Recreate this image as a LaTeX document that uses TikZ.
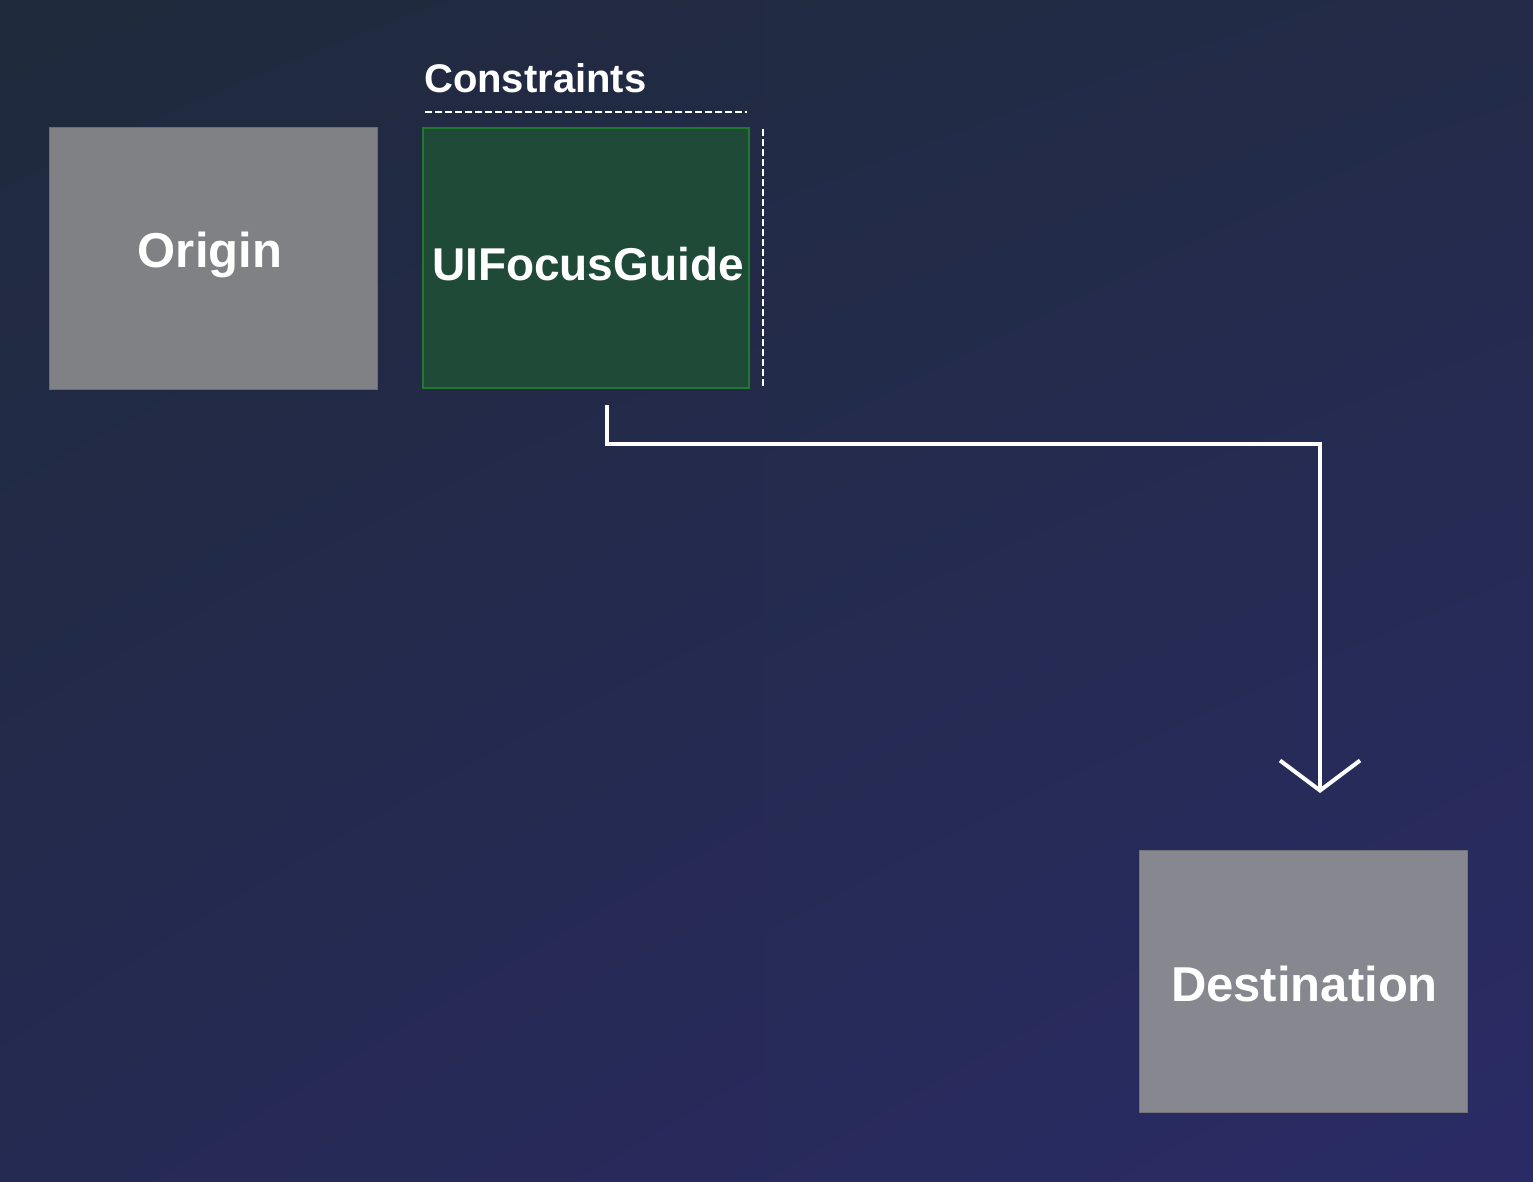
\documentclass[tikz,border=0pt]{standalone}
\usepackage{fontspec}
\setmainfont{Liberation Sans}
\usetikzlibrary{arrows.meta,shadings}
\definecolor{bgUL}{HTML}{1F2A3C}
\definecolor{bgUR}{HTML}{232B48}
\definecolor{bgLL}{HTML}{252A52}
\definecolor{bgLR}{HTML}{2A2B66}
\definecolor{viewgray}{HTML}{808185}
\definecolor{destgray}{HTML}{87878F}
\definecolor{guidefill}{HTML}{1F4A37}
\definecolor{guideedge}{HTML}{1F7A2E}
\tikzset{
  viewbox/.style={draw=viewgray!85!black, line width=1pt, minimum width=328pt, minimum height=262pt, inner sep=0pt, text height=20pt, text depth=20pt, text=white, font=\fontsize{49}{58}\selectfont\bfseries},
  guidebox/.style={fill=guidefill, draw=guideedge, line width=2pt, minimum width=326pt, minimum height=260pt, inner sep=0pt, text height=20pt, text depth=20pt, text=white, font=\fontsize{46}{55}\selectfont\bfseries},
  guideline/.style={draw=white, line width=1.5pt, dash pattern=on 7pt off 3pt},
  flow/.style={draw=white, line width=4pt},
}
\begin{document}
\begin{tikzpicture}[x=1pt,y=-1pt]
\shade[upper left=bgUL, upper right=bgUR, lower left=bgLL, lower right=bgLR] (0,0) rectangle (1533,1181);
\useasboundingbox (0,0) rectangle (1533,1181);
\node[viewbox, fill=viewgray] (origin) at (213,258) {\hspace*{-6pt}\raisebox{-9pt}{Origin}};
\node[guidebox] (guide) at (586,258) {\hspace*{4pt}\raisebox{-22pt}{UIFocusGuide}};
\node[viewbox, fill=destgray, draw=destgray!85!black] (dest) at (1303,981) {\hspace*{3pt}\raisebox{-20pt}{Destination}};
\node[anchor=base west, inner sep=0pt, text=white, font=\fontsize{40}{48}\selectfont\bfseries] (constraints) at (424,92) {Constraints};
\coordinate (hl1) at (425,112);
\coordinate (hl2) at (747,112);
\coordinate (vl1) at (763,129);
\coordinate (vl2) at (763,388);
\draw[guideline] (hl1) -- (hl2);
\draw[guideline] (vl1) -- (vl2);
\coordinate (start) at (607,405);
\coordinate (tip) at (1320,793);
\draw[flow, line cap=butt, line join=miter, -{Straight Barb[length=30pt,width=80pt,line width=4pt]}] (start) -- (607,444) -| (tip);
\end{tikzpicture}
\end{document}
